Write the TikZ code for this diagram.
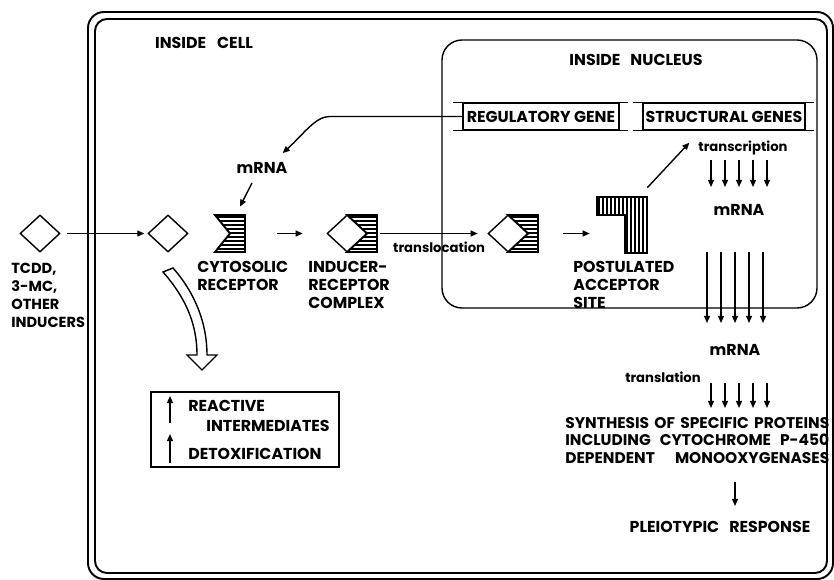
\documentclass[tikz,border=0pt]{standalone}
\usepackage{fontspec}
\setmainfont{Poppins}
\usetikzlibrary{arrows.meta,calc,shapes.geometric}

\newcommand{\capfnt}{\bfseries\fontsize{9}{10.2}\selectfont}
\newcommand{\lowfnt}{\bfseries\fontsize{7.5}{8.5}\selectfont}
% receptor block: top-left x, top-left y, notch depth
\newcommand{\rcpt}[3]{%
	\begin{scope}[shift={(#1,#2)}]
		\begin{scope}
			\clip (0,0) -- (30,0) -- (30,37) -- (0,37) -- (#3,18.5) -- cycle;
			\foreach \hy in {2,6,...,36} \draw[line width=0.8pt] (0,\hy) -- (30,\hy);
		\end{scope}
		\draw[line width=1.1pt] (30,0) -- (0,0) -- (#3,18.5) -- (0,37) -- (30,37) -- cycle;
	\end{scope}}

\begin{document}
\begin{tikzpicture}[x=0.02cm, y=-0.02cm,
		txt/.style={font=\capfnt, inner sep=0pt, align=left},
		small/.style={font=\lowfnt, inner sep=0pt},
		dmd/.style={draw, diamond, thick, fill=white, minimum width=0.8cm, minimum height=0.74cm, inner sep=0pt},
		hold/.style={inner sep=0pt, minimum height=0.74cm},
		genebox/.style={draw, thick, inner sep=0pt, minimum height=0.54cm, font=\capfnt},
		arrow/.style={-{Triangle[length=4pt,width=3.4pt]}, thick},
	]
	\useasboundingbox (0,0) rectangle (834,580);

	% cell and nucleus
	\draw[line width=1.1pt, rounded corners=0.32cm] (88,12) rectangle (833,579);
	\draw[line width=1.1pt, rounded corners=0.24cm] (95,19) rectangle (827,573);
	\draw[thick, rounded corners=0.4cm] (442,40) rectangle (817,308);

	\node[txt] (cell) at (204,43) {INSIDE\hspace{0.22cm}CELL};
	\node[txt] (nucl) at (636,60) {INSIDE\hspace{0.2cm}NUCLEUS};

	% genes
	\node[genebox, minimum width=3.12cm] (reg) at (541,116.5) {REGULATORY GENE};
	\node[genebox, minimum width=3.24cm] (struct) at (724,116.5) {STRUCTURAL GENES};
	\foreach \g in {reg, struct} {
		\draw[thick] ([xshift=-0.18cm]\g.north west) -- ([xshift=0.16cm]\g.north east);
		\draw[thick] ([xshift=-0.18cm]\g.south west) -- ([xshift=0.16cm]\g.south east);
	}

	% inducer and receptor
	\node[dmd] (tcdd) at (40,233.5) {};
	\node[txt, anchor=north west, font=\bfseries\fontsize{8.3}{10.2}\selectfont] (tcddlbl) at (11,263) {TCDD,\\3-MC,\\OTHER\\INDUCERS};
	\node[dmd] (ind) at (168,233.5) {};

	\rcpt{215}{215}{15}
	\node[hold, minimum width=0.6cm] (rec) at (230,233.5) {};
	\node[txt, anchor=north west] (reclbl) at (197,261) {CYTOSOLIC\\RECEPTOR};

	\rcpt{347}{215}{20}
	\node[dmd] (cplxd) at (347,233.5) {};
	\node[hold, minimum width=1cm] (cplx) at (352,233.5) {};
	\node[txt, anchor=north west] (cplxlbl) at (308,261) {INDUCER-\\RECEPTOR\\COMPLEX};

	\rcpt{508}{215}{20}
	\node[dmd] (nucd) at (508,233.5) {};
	\node[hold, minimum width=1cm] (nucplx) at (513,233.5) {};

	% acceptor site
	\begin{scope}
		\clip (597,197) -- (647,197) -- (647,253) -- (625,253) -- (625,215) -- (597,215) -- cycle;
		\foreach \hx in {599,603,...,647} \draw[line width=0.8pt] (\hx,190) -- (\hx,260);
	\end{scope}
	\draw[line width=1.1pt] (597,197) -- (647,197) -- (647,253) -- (625,253) -- (625,215) -- (597,215) -- cycle;
	\node[inner sep=0pt, minimum width=1cm, minimum height=1.12cm] (acc) at (622,225) {};
	\node[txt, anchor=north west] (acclbl) at (573,261) {POSTULATED\\ACCEPTOR\\SITE};

	\node[txt] (mrnaA) at (262,168) {mRNA};

	\draw[arrow, shorten <=0.12cm, shorten >=0.06cm] (tcdd) -- (ind);
	\draw[arrow, shorten <=0.64cm, shorten >=0.48cm] (rec.east) -- (cplx.west);
	\draw[arrow, shorten <=0.06cm, shorten >=0.2cm] (cplx.east) -- node[small, pos=0.56, below=0.16cm] (transl) {translocation} (nucplx.west);
	\draw[arrow, shorten <=0.5cm, shorten >=0.14cm] (nucplx.east) -- (nucplx.east -| acc.west);
	\draw[arrow] ($(acc.north east)+(0,-9)$) -- ($(struct.south west)+(47,12)$);
	\draw[arrow] (reg.west) -- ++(-133,0) .. controls +(-14,0) and +(20,-18) .. ($(mrnaA.north east)+(-5,-9)$);
	\draw[arrow] ($(mrnaA.south)+(-10,9)$) -- ($(rec.north)+(10,-8)$);

	% nucleus output
	\node[small] (trans) at (743,148) {transcription};
	\node[txt] (mrnaB) at (739,210) {mRNA};
	\node[txt] (mrnaC) at (735,350) {mRNA};
	\node[small] (transl2) at (663,377) {translation};
	\node[txt, anchor=north west, font=\bfseries\fontsize{8.8}{9.9}\selectfont] (synth) at (565,417)
		{\makebox[5.28cm][s]{SYNTHESIS OF SPECIFIC PROTEINS}\\
		 \makebox[5.28cm][s]{INCLUDING CYTOCHROME P-450}\\
		 \makebox[5.28cm][s]{DEPENDENT MONOOXYGENASES}};
	\node[txt] (pleio) at (720,527) {PLEIOTYPIC\hspace{0.2cm}RESPONSE};

	\foreach \dx in {-28,-14,0,14,28} {
		\draw[arrow] ($(mrnaB |- trans)+(\dx,12)$) -- ($(mrnaB)+(\dx,-23)$);
		\draw[arrow] ($(mrnaC |- mrnaB)+(\dx,42)$) -- ($(mrnaC)+(\dx,-27)$);
		\draw[arrow] ($(mrnaC)+(\dx+4,33)$) -- ($(mrnaC |- synth.north)+(\dx+4,-9)$);
	}
	\draw[arrow] ($(synth.south -| pleio.north)+(15,18)$) -- ($(pleio.north)+(15,-15)$);

	% effects
	\draw[thick, fill=white] (163,272) .. controls (185,297) and (197,323) .. (197,355) -- (187,355) -- (202,370) -- (217,355) -- (207,355) .. controls (207,323) and (195,293) .. (173,268) -- cycle;
	\node[draw, thick, minimum width=3.76cm, minimum height=1.5cm] (effbox) at (245,429.5) {};
	\node[txt, anchor=north west] (react) at (188,400) {REACTIVE};
	\node[txt, anchor=north west] (inter) at (206,420) {INTERMEDIATES};
	\node[txt, anchor=north west] (detox) at (188,448) {DETOXIFICATION};
	\draw[arrow] ($(react.west)+(-18,17)$) -- ($(react.west)+(-18,-10)$);
	\draw[arrow] ($(detox.west)+(-18,9)$) -- ($(detox.west)+(-18,-20)$);
\end{tikzpicture}
\end{document}
